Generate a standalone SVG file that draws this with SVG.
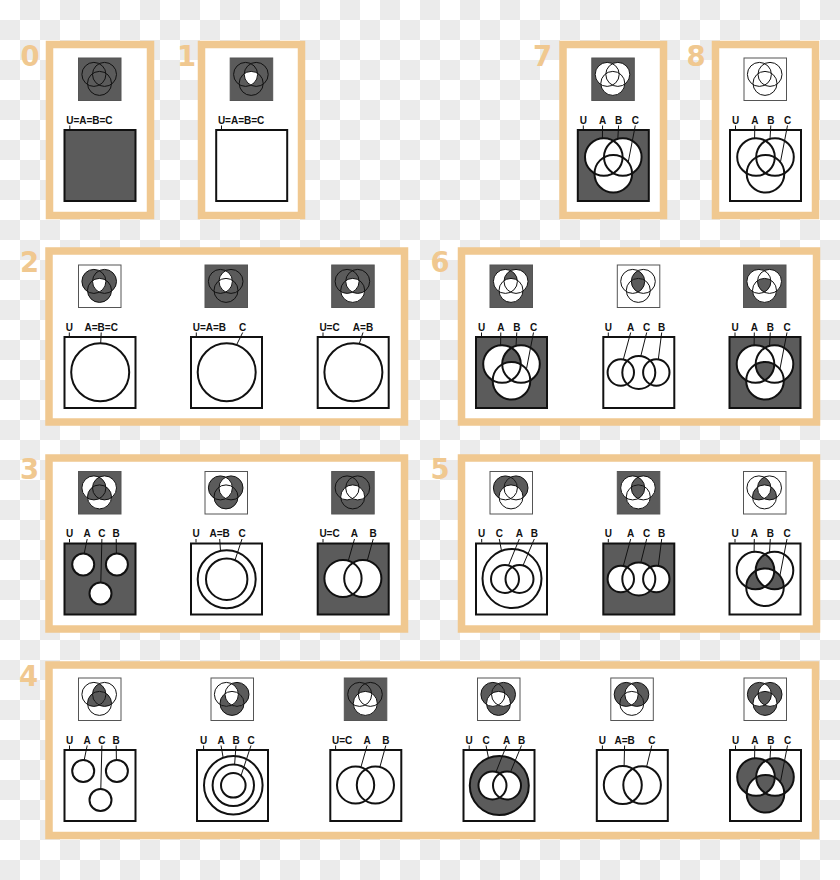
<svg xmlns="http://www.w3.org/2000/svg" xmlns:xlink="http://www.w3.org/1999/xlink" width="840" height="880" viewBox="0 0 840 880">
<style>
.fr{fill:#fff;stroke:#f0c890;stroke-width:7.5}
.num{font-family:"DejaVu Sans",sans-serif;font-weight:bold;font-size:27.5px;fill:#f0c890}
.isq{stroke:#555;stroke-width:1}
.bsq{stroke:#111;stroke-width:2}
.dk{fill:#5b5b5b}
.wh{fill:#fff}
.nf{fill:none}
.bc{stroke:#111;stroke-width:2}
.lb{font-family:"Liberation Sans",Arial,sans-serif;font-weight:bold;font-size:10px;fill:#111;text-anchor:middle}
.ls{font-family:"Liberation Sans",Arial,sans-serif;font-weight:bold;font-size:10px;fill:#111;text-anchor:start}
.ld{fill:none;stroke:#111;stroke-width:1}
</style>
<defs>
<pattern id="chk" width="40" height="40" patternUnits="userSpaceOnUse"><rect width="40" height="40" fill="#fff"/><rect x="20" width="20" height="20" fill="#ebebeb"/><rect y="20" width="20" height="20" fill="#ebebeb"/></pattern>
<clipPath id="ciA"><circle cx="15.9" cy="16.9" r="12"/></clipPath>
<clipPath id="ciB"><circle cx="26.5" cy="16.9" r="12"/></clipPath>
<clipPath id="ciC"><circle cx="21.5" cy="25.9" r="12"/></clipPath>
<clipPath id="niA"><path clip-rule="evenodd" d="M-2 -2H46V46H-2Z M3.9 16.9a12 12 0 1 0 24 0a12 12 0 1 0 -24 0Z"/></clipPath>
<clipPath id="niB"><path clip-rule="evenodd" d="M-2 -2H46V46H-2Z M14.5 16.9a12 12 0 1 0 24 0a12 12 0 1 0 -24 0Z"/></clipPath>
<clipPath id="niC"><path clip-rule="evenodd" d="M-2 -2H46V46H-2Z M9.5 25.9a12 12 0 1 0 24 0a12 12 0 1 0 -24 0Z"/></clipPath>
<clipPath id="cbA"><circle cx="27" cy="28" r="18.8"/></clipPath>
<clipPath id="cbB"><circle cx="46" cy="28" r="18.8"/></clipPath>
<clipPath id="cbC"><circle cx="36.5" cy="44.7" r="18.8"/></clipPath>
<clipPath id="nbA"><path clip-rule="evenodd" d="M-2 -2H75V75H-2Z M8.2 28a18.8 18.8 0 1 0 37.6 0a18.8 18.8 0 1 0 -37.6 0Z"/></clipPath>
<clipPath id="nbB"><path clip-rule="evenodd" d="M-2 -2H75V75H-2Z M27.2 28a18.8 18.8 0 1 0 37.6 0a18.8 18.8 0 1 0 -37.6 0Z"/></clipPath>
<clipPath id="nbC"><path clip-rule="evenodd" d="M-2 -2H75V75H-2Z M17.7 44.7a18.8 18.8 0 1 0 37.6 0a18.8 18.8 0 1 0 -37.6 0Z"/></clipPath>
<!-- icon pieces -->
<g id="iU"><circle id="iCa" cx="15.9" cy="16.9" r="12"/><circle id="iCb" cx="26.5" cy="16.9" r="12"/><circle id="iCc" cx="21.5" cy="25.9" r="12"/></g>
<g id="iO" fill="none" stroke="#111" stroke-width="1"><circle cx="15.9" cy="16.9" r="12"/><circle cx="26.5" cy="16.9" r="12"/><circle cx="21.5" cy="25.9" r="12"/></g>
<g id="i100" clip-path="url(#ciA)"><g clip-path="url(#niB)"><rect clip-path="url(#niC)" width="44" height="44"/></g></g>
<g id="i010" clip-path="url(#niA)"><g clip-path="url(#ciB)"><rect clip-path="url(#niC)" width="44" height="44"/></g></g>
<g id="i001" clip-path="url(#niA)"><g clip-path="url(#niB)"><rect clip-path="url(#ciC)" width="44" height="44"/></g></g>
<g id="i110" clip-path="url(#ciA)"><g clip-path="url(#ciB)"><rect clip-path="url(#niC)" width="44" height="44"/></g></g>
<g id="i101" clip-path="url(#ciA)"><g clip-path="url(#niB)"><rect clip-path="url(#ciC)" width="44" height="44"/></g></g>
<g id="i011" clip-path="url(#niA)"><g clip-path="url(#ciB)"><rect clip-path="url(#ciC)" width="44" height="44"/></g></g>
<g id="i111" clip-path="url(#ciA)"><g clip-path="url(#ciB)"><rect clip-path="url(#ciC)" width="44" height="44"/></g></g>
<!-- big venn pieces -->
<g id="bU"><circle cx="27" cy="28" r="18.8"/><circle cx="46" cy="28" r="18.8"/><circle cx="36.5" cy="44.7" r="18.8"/></g>
<g id="bO" fill="none" stroke="#111" stroke-width="2"><circle cx="27" cy="28" r="18.8"/><circle cx="46" cy="28" r="18.8"/><circle cx="36.5" cy="44.7" r="18.8"/></g>
<g id="b100" clip-path="url(#cbA)"><g clip-path="url(#nbB)"><rect clip-path="url(#nbC)" width="73" height="73"/></g></g>
<g id="b010" clip-path="url(#nbA)"><g clip-path="url(#cbB)"><rect clip-path="url(#nbC)" width="73" height="73"/></g></g>
<g id="b001" clip-path="url(#nbA)"><g clip-path="url(#nbB)"><rect clip-path="url(#cbC)" width="73" height="73"/></g></g>
<g id="b110" clip-path="url(#cbA)"><g clip-path="url(#cbB)"><rect clip-path="url(#nbC)" width="73" height="73"/></g></g>
<g id="b101" clip-path="url(#cbA)"><g clip-path="url(#nbB)"><rect clip-path="url(#cbC)" width="73" height="73"/></g></g>
<g id="b011" clip-path="url(#nbA)"><g clip-path="url(#cbB)"><rect clip-path="url(#cbC)" width="73" height="73"/></g></g>
<g id="b111" clip-path="url(#cbA)"><g clip-path="url(#cbB)"><rect clip-path="url(#cbC)" width="73" height="73"/></g></g>
</defs>

<rect width="840" height="880" fill="url(#chk)"/>

<g id="frames">
<rect class="fr" x="49.5" y="44.5" width="101" height="171"/>
<rect class="fr" x="201.5" y="44.5" width="100" height="171"/>
<rect class="fr" x="563" y="44.5" width="100.5" height="171"/>
<rect class="fr" x="715.5" y="44.5" width="100" height="171"/>
<rect class="fr" x="49" y="251" width="355.5" height="171"/>
<rect class="fr" x="461.5" y="251" width="355" height="171"/>
<rect class="fr" x="49" y="458" width="355.5" height="171"/>
<rect class="fr" x="461.5" y="458" width="355" height="171"/>
<rect class="fr" x="49" y="665" width="766.5" height="170.5"/>
<text class="num" x="20.5" y="65.5">0</text>
<text class="num" x="177" y="65.5">1</text>
<text class="num" x="533" y="65.5">7</text>
<text class="num" x="686.5" y="65.5">8</text>
<text class="num" x="20" y="272">2</text>
<text class="num" x="430.5" y="272">6</text>
<text class="num" x="20" y="478.5">3</text>
<text class="num" x="430.5" y="478.5">5</text>
<text class="num" x="19" y="686">4</text>
</g>

<!-- group 0 -->
<g id="c0" transform="translate(63.5,129)">
<g transform="translate(14.5,-71.5)"><rect class="isq dk" x="0.5" y="0.5" width="42.5" height="42.5"/><use href="#iO"/></g>
<rect class="bsq dk" x="1" y="1" width="71" height="71"/>
<text class="ls" x="2.7" y="-5.5">U=A=B=C</text>
</g>
<!-- group 1 -->
<g id="c1" transform="translate(215.2,129)">
<g transform="translate(14.5,-71.5)"><rect class="isq dk" x="0.5" y="0.5" width="42.5" height="42.5"/><use href="#i111" class="wh"/><use href="#iO"/></g>
<rect class="bsq wh" x="1" y="1" width="71" height="71"/>
<text class="ls" x="2.7" y="-5.5">U=A=B=C</text>
</g>
<!-- group 7 -->
<g id="c7" transform="translate(576.8,129)">
<g transform="translate(14.5,-71.5)"><rect class="isq dk" x="0.5" y="0.5" width="42.5" height="42.5"/><use href="#iU" class="wh"/><use href="#iO"/></g>
<rect class="bsq dk" x="1" y="1" width="71" height="71"/>
<use href="#bU" class="wh"/><use href="#bO"/>
<text class="lb" x="6.5" y="-5.5">U</text><text class="lb" x="25.8" y="-5.5">A</text><text class="lb" x="41.8" y="-5.5">B</text><text class="lb" x="58.5" y="-5.5">C</text>
</g>
<!-- group 8 -->
<g id="c8" transform="translate(729,129)">
<g transform="translate(14.5,-71.5)"><rect class="isq wh" x="0.5" y="0.5" width="42.5" height="42.5"/><use href="#iO"/></g>
<rect class="bsq wh" x="1" y="1" width="71" height="71"/>
<use href="#bO"/>
<text class="lb" x="6.5" y="-5.5">U</text><text class="lb" x="25.8" y="-5.5">A</text><text class="lb" x="41.8" y="-5.5">B</text><text class="lb" x="58.5" y="-5.5">C</text>
</g>

<!-- group 2 -->
<g id="c2a" transform="translate(63.5,336)">
<g transform="translate(14.5,-71.5)"><rect class="isq wh" x="0.5" y="0.5" width="42.5" height="42.5"/><use href="#iU" class="dk"/><use href="#i111" class="wh"/><use href="#iO"/></g>
<rect class="bsq wh" x="1" y="1" width="71" height="71"/>
<circle class="bc wh" cx="36.7" cy="36.3" r="29"/>
<text class="lb" x="5.8" y="-5.5">U</text><text class="lb" x="37.7" y="-5.5">A=B=C</text>
</g>
<g id="c2b" transform="translate(190,336)">
<g transform="translate(14.5,-71.5)"><rect class="isq dk" x="0.5" y="0.5" width="42.5" height="42.5"/><use href="#i110" class="wh"/><use href="#i111" class="wh"/><use href="#iO"/></g>
<rect class="bsq wh" x="1" y="1" width="71" height="71"/>
<circle class="bc wh" cx="36.7" cy="36.3" r="29"/>
<text class="ls" x="2.7" y="-5.5">U=A=B</text><text class="lb" x="52.7" y="-5.5">C</text>
</g>
<g id="c2c" transform="translate(316.7,336)">
<g transform="translate(14.5,-71.5)"><rect class="isq dk" x="0.5" y="0.5" width="42.5" height="42.5"/><use href="#i001" class="wh"/><use href="#i111" class="wh"/><use href="#iO"/></g>
<rect class="bsq wh" x="1" y="1" width="71" height="71"/>
<circle class="bc wh" cx="36.7" cy="36.3" r="29"/>
<text class="ls" x="2.7" y="-5.5">U=C</text><text class="lb" x="46.3" y="-5.5">A=B</text>
</g>

<!-- group 6 -->
<g id="c6a" transform="translate(475,336)">
<g transform="translate(14.5,-71.5)"><rect class="isq dk" x="0.5" y="0.5" width="42.5" height="42.5"/><use href="#iU" class="wh"/><use href="#i110" class="dk"/><use href="#iO"/></g>
<rect class="bsq dk" x="1" y="1" width="71" height="71"/>
<use href="#bU" class="wh"/><use href="#b110" class="dk"/><use href="#bO"/>
<text class="lb" x="6.5" y="-5.5">U</text><text class="lb" x="25.8" y="-5.5">A</text><text class="lb" x="41.8" y="-5.5">B</text><text class="lb" x="58.5" y="-5.5">C</text>
</g>
<g id="c6b" transform="translate(602.3,336)">
<g transform="translate(14.5,-71.5)"><rect class="isq wh" x="0.5" y="0.5" width="42.5" height="42.5"/><use href="#i110" class="dk"/><use href="#i111" class="dk"/><use href="#iO"/></g>
<rect class="bsq wh" x="1" y="1" width="71" height="71"/>
<circle class="bc nf" cx="18.5" cy="36.5" r="13.2"/><circle class="bc nf" cx="36.5" cy="36.5" r="16.5"/><circle class="bc nf" cx="54" cy="36.5" r="13.2"/>
<text class="lb" x="6" y="-5.5">U</text><text class="lb" x="28.4" y="-5.5">A</text><text class="lb" x="44.4" y="-5.5">C</text><text class="lb" x="59.4" y="-5.5">B</text>
</g>
<g id="c6c" transform="translate(728.5,336)">
<g transform="translate(14.5,-71.5)"><rect class="isq dk" x="0.5" y="0.5" width="42.5" height="42.5"/><use href="#iU" class="wh"/><use href="#i111" class="dk"/><use href="#iO"/></g>
<rect class="bsq dk" x="1" y="1" width="71" height="71"/>
<use href="#bU" class="wh"/><use href="#b111" class="dk"/><use href="#bO"/>
<text class="lb" x="6.5" y="-5.5">U</text><text class="lb" x="25.8" y="-5.5">A</text><text class="lb" x="41.8" y="-5.5">B</text><text class="lb" x="58.5" y="-5.5">C</text>
</g>

<!-- group 3 -->
<g id="c3a" transform="translate(63.5,542.5)">
<g transform="translate(14.5,-71.5)"><rect class="isq dk" x="0.5" y="0.5" width="42.5" height="42.5"/><use href="#i100" class="wh"/><use href="#i010" class="wh"/><use href="#i001" class="wh"/><use href="#iO"/></g>
<rect class="bsq dk" x="1" y="1" width="71" height="71"/>
<circle class="bc wh" cx="19.7" cy="22" r="11"/><circle class="bc wh" cx="53.4" cy="22" r="11"/><circle class="bc wh" cx="37" cy="51" r="11"/>
<text class="lb" x="6" y="-5.5">U</text><text class="lb" x="23.7" y="-5.5">A</text><text class="lb" x="38.4" y="-5.5">C</text><text class="lb" x="52.7" y="-5.5">B</text>
</g>
<g id="c3b" transform="translate(190,542.5)">
<g transform="translate(14.5,-71.5)"><rect class="isq wh" x="0.5" y="0.5" width="42.5" height="42.5"/><use href="#iU" class="dk"/><use href="#i110" class="wh"/><use href="#i111" class="wh"/><use href="#iO"/></g>
<rect class="bsq wh" x="1" y="1" width="71" height="71"/>
<circle class="bc nf" cx="36.7" cy="36.7" r="29"/><circle class="bc nf" cx="36.7" cy="36.7" r="20.7"/>
<text class="lb" x="6" y="-5.5">U</text><text class="lb" x="29.7" y="-5.5">A=B</text><text class="lb" x="52" y="-5.5">C</text>
</g>
<g id="c3c" transform="translate(316.7,542.5)">
<g transform="translate(14.5,-71.5)"><rect class="isq dk" x="0.5" y="0.5" width="42.5" height="42.5"/><use href="#i101" class="wh"/><use href="#i011" class="wh"/><use href="#i111" class="wh"/><use href="#iO"/></g>
<rect class="bsq dk" x="1" y="1" width="71" height="71"/>
<circle class="wh" cx="26.3" cy="36" r="18.6"/><circle class="wh" cx="46.1" cy="36" r="18.6"/>
<circle class="bc nf" cx="26.3" cy="36" r="18.6"/><circle class="bc nf" cx="46.1" cy="36" r="18.6"/>
<text class="ls" x="2.7" y="-5.5">U=C</text><text class="lb" x="37.8" y="-5.5">A</text><text class="lb" x="56.5" y="-5.5">B</text>
</g>

<!-- group 5 -->
<g id="c5a" transform="translate(475,542.5)">
<g transform="translate(14.5,-71.5)"><rect class="isq wh" x="0.5" y="0.5" width="42.5" height="42.5"/><use href="#i100" class="dk"/><use href="#i010" class="dk"/><use href="#i110" class="dk"/><use href="#iO"/></g>
<rect class="bsq wh" x="1" y="1" width="71" height="71"/>
<circle class="bc nf" cx="37" cy="36" r="29.5"/><circle class="bc nf" cx="30" cy="36.5" r="14"/><circle class="bc nf" cx="44.5" cy="36.5" r="14"/>
<text class="lb" x="6.7" y="-5.5">U</text><text class="lb" x="24.3" y="-5.5">C</text><text class="lb" x="44.3" y="-5.5">A</text><text class="lb" x="59.3" y="-5.5">B</text>
</g>
<g id="c5b" transform="translate(602.3,542.5)">
<g transform="translate(14.5,-71.5)"><rect class="isq dk" x="0.5" y="0.5" width="42.5" height="42.5"/><use href="#iU" class="wh"/><use href="#i110" class="dk"/><use href="#i111" class="dk"/><use href="#iO"/></g>
<rect class="bsq dk" x="1" y="1" width="71" height="71"/>
<circle class="wh" cx="18.5" cy="36.5" r="13.2"/><circle class="wh" cx="36.5" cy="36.5" r="16.5"/><circle class="wh" cx="54" cy="36.5" r="13.2"/>
<circle class="bc nf" cx="18.5" cy="36.5" r="13.2"/><circle class="bc nf" cx="36.5" cy="36.5" r="16.5"/><circle class="bc nf" cx="54" cy="36.5" r="13.2"/>
<text class="lb" x="6" y="-5.5">U</text><text class="lb" x="28.4" y="-5.5">A</text><text class="lb" x="44.4" y="-5.5">C</text><text class="lb" x="59.4" y="-5.5">B</text>
</g>
<g id="c5c" transform="translate(728.5,542.5)">
<g transform="translate(14.5,-71.5)"><rect class="isq wh" x="0.5" y="0.5" width="42.5" height="42.5"/><use href="#i110" class="dk"/><use href="#i101" class="dk"/><use href="#i011" class="dk"/><use href="#iO"/></g>
<rect class="bsq wh" x="1" y="1" width="71" height="71"/>
<use href="#b110" class="dk"/><use href="#b101" class="dk"/><use href="#b011" class="dk"/><use href="#bO"/>
<text class="lb" x="6.5" y="-5.5">U</text><text class="lb" x="25.8" y="-5.5">A</text><text class="lb" x="41.8" y="-5.5">B</text><text class="lb" x="58.5" y="-5.5">C</text>
</g>

<!-- group 4 -->
<g id="c4a" transform="translate(63.5,749)">
<g transform="translate(14.5,-71.5)"><rect class="isq wh" x="0.5" y="0.5" width="42.5" height="42.5"/><use href="#i110" class="dk"/><use href="#i101" class="dk"/><use href="#i011" class="dk"/><use href="#i111" class="dk"/><use href="#iO"/></g>
<rect class="bsq wh" x="1" y="1" width="71" height="71"/>
<circle class="bc nf" cx="19.7" cy="22" r="11"/><circle class="bc nf" cx="53.4" cy="22" r="11"/><circle class="bc nf" cx="37" cy="51" r="11"/>
<text class="lb" x="6" y="-5.5">U</text><text class="lb" x="23.7" y="-5.5">A</text><text class="lb" x="38.4" y="-5.5">C</text><text class="lb" x="52.7" y="-5.5">B</text>
</g>
<g id="c4b" transform="translate(196,749)">
<g transform="translate(14.5,-71.5)"><rect class="isq wh" x="0.5" y="0.5" width="42.5" height="42.5"/><use href="#i010" class="dk"/><use href="#i001" class="dk"/><use href="#i101" class="dk"/><use href="#i011" class="dk"/><use href="#iO"/></g>
<rect class="bsq wh" x="1" y="1" width="71" height="71"/>
<circle class="bc nf" cx="37.3" cy="36.3" r="29.3"/><circle class="bc nf" cx="37.3" cy="36.3" r="20.7"/><circle class="bc nf" cx="37.3" cy="36.3" r="12.3"/>
<text class="lb" x="7.6" y="-5.5">U</text><text class="lb" x="25" y="-5.5">A</text><text class="lb" x="40" y="-5.5">B</text><text class="lb" x="55" y="-5.5">C</text>
</g>
<g id="c4c" transform="translate(329.3,749)">
<g transform="translate(14.5,-71.5)"><rect class="isq dk" x="0.5" y="0.5" width="42.5" height="42.5"/><use href="#iCc" class="wh"/><use href="#iO"/></g>
<rect class="bsq wh" x="1" y="1" width="71" height="71"/>
<circle class="bc nf" cx="26.3" cy="36" r="18.6"/><circle class="bc nf" cx="46.1" cy="36" r="18.6"/>
<text class="ls" x="2.7" y="-5.5">U=C</text><text class="lb" x="37.8" y="-5.5">A</text><text class="lb" x="56.5" y="-5.5">B</text>
</g>
<g id="c4d" transform="translate(462.5,749)">
<g transform="translate(14.5,-71.5)"><rect class="isq wh" x="0.5" y="0.5" width="42.5" height="42.5"/><use href="#i100" class="dk"/><use href="#i010" class="dk"/><use href="#i110" class="dk"/><use href="#i001" class="dk"/><use href="#iO"/></g>
<rect class="bsq wh" x="1" y="1" width="71" height="71"/>
<circle class="bc dk" cx="36.8" cy="36.5" r="29.5"/>
<circle class="wh" cx="30" cy="36.5" r="14"/><circle class="wh" cx="44.5" cy="36.5" r="14"/>
<circle class="bc nf" cx="30" cy="36.5" r="14"/><circle class="bc nf" cx="44.5" cy="36.5" r="14"/>
<text class="lb" x="6.7" y="-5.5">U</text><text class="lb" x="23.5" y="-5.5">C</text><text class="lb" x="44" y="-5.5">A</text><text class="lb" x="59" y="-5.5">B</text>
</g>
<g id="c4e" transform="translate(595.8,749)">
<g transform="translate(14.5,-71.5)"><rect class="isq wh" x="0.5" y="0.5" width="42.5" height="42.5"/><use href="#i100" class="dk"/><use href="#i010" class="dk"/><use href="#i101" class="dk"/><use href="#i011" class="dk"/><use href="#iO"/></g>
<rect class="bsq wh" x="1" y="1" width="71" height="71"/>
<circle class="bc nf" cx="27" cy="36" r="19"/><circle class="bc nf" cx="46.3" cy="36" r="18.8"/>
<text class="lb" x="6.6" y="-5.5">U</text><text class="lb" x="28.8" y="-5.5">A=B</text><text class="lb" x="56" y="-5.5">C</text>
</g>
<g id="c4f" transform="translate(729,749)">
<g transform="translate(14.5,-71.5)"><rect class="isq wh" x="0.5" y="0.5" width="42.5" height="42.5"/><use href="#i100" class="dk"/><use href="#i010" class="dk"/><use href="#i001" class="dk"/><use href="#i111" class="dk"/><use href="#iO"/></g>
<rect class="bsq wh" x="1" y="1" width="71" height="71"/>
<use href="#b100" class="dk"/><use href="#b010" class="dk"/><use href="#b001" class="dk"/><use href="#b111" class="dk"/><use href="#bO"/>
<text class="lb" x="6.5" y="-5.5">U</text><text class="lb" x="25.8" y="-5.5">A</text><text class="lb" x="41.8" y="-5.5">B</text><text class="lb" x="58.5" y="-5.5">C</text>
</g>

<g id="connectors">
<path class="ld" transform="translate(63.5,129)" d="M6.3 -3.5V0"/>
<path class="ld" transform="translate(215.2,129)" d="M6.3 -3.5V0"/>
<path class="ld" transform="translate(576.8,129)" d="M6.5 -3.5V0M25.8 -3.5L25.6 9.2M41.8 -3.5L41 9.9M58.5 -3.5L51.4 33.3"/>
<path class="ld" transform="translate(729,129)" d="M6.5 -3.5V0M25.8 -3.5L25.6 9.2M41.8 -3.5L41 9.9M58.5 -3.5L51.4 33.3"/>
<path class="ld" transform="translate(63.5,336)" d="M5.8 -3.5V0M37.7 -3.5L37.2 7.3"/>
<path class="ld" transform="translate(190,336)" d="M6.3 -3.5V0M52.7 -3.5L46.5 9"/>
<path class="ld" transform="translate(316.7,336)" d="M6.3 -3.5V0M46.3 -3.5L42.5 7.9"/>
<path class="ld" transform="translate(475,336)" d="M6.5 -3.5V0M25.8 -3.5L25.6 9.2M41.8 -3.5L41 9.9M58.5 -3.5L51.4 33.3"/>
<path class="ld" transform="translate(602.3,336)" d="M6 -3.5V0M28.4 -3.5L21 23.5M44.4 -3.5L38.5 20.1M59.4 -3.5L56 23.5"/>
<path class="ld" transform="translate(728.5,336)" d="M6.5 -3.5V0M25.8 -3.5L25.6 9.2M41.8 -3.5L41 9.9M58.5 -3.5L51.4 33.3"/>
<path class="ld" transform="translate(63.5,542.5)" d="M6 -3.5V0M23.7 -3.5L20.7 11M38.4 -3.5L37.3 40M52.7 -3.5L52.9 11"/>
<path class="ld" transform="translate(190,542.5)" d="M6 -3.5V0M29.7 -3.5L30.5 8.4M52 -3.5L45 17.7"/>
<path class="ld" transform="translate(316.7,542.5)" d="M6.3 -3.5V0M37.8 -3.5L31.6 18.2M56.5 -3.5L50.6 18"/>
<path class="ld" transform="translate(475,542.5)" d="M6.7 -3.5V0M24.3 -3.5L26.5 8.4M44.3 -3.5L33.5 23M59.3 -3.5L48 23"/>
<path class="ld" transform="translate(602.3,542.5)" d="M6 -3.5V0M28.4 -3.5L21 23.5M44.4 -3.5L38.5 20.1M59.4 -3.5L56 23.5"/>
<path class="ld" transform="translate(728.5,542.5)" d="M6.5 -3.5V0M25.8 -3.5L25.6 9.2M41.8 -3.5L41 9.9M58.5 -3.5L51.4 33.3"/>
<path class="ld" transform="translate(63.5,749)" d="M6 -3.5V0M23.7 -3.5L20.7 11M38.4 -3.5L37.3 40M52.7 -3.5L52.9 11"/>
<path class="ld" transform="translate(196,749)" d="M7.6 -3.5V0M25 -3.5L27.2 8.8M40 -3.5L38.6 15.6M55 -3.5L45 26.7"/>
<path class="ld" transform="translate(329.3,749)" d="M6.3 -3.5V0M37.8 -3.5L31.6 18.2M56.5 -3.5L50.6 18"/>
<path class="ld" transform="translate(462.5,749)" d="M6.7 -3.5V0M23.5 -3.5L26 9M44 -3.5L33.5 23M59 -3.5L48 23"/>
<path class="ld" transform="translate(595.8,749)" d="M6.6 -3.5V0M28.8 -3.5L28.3 17M56 -3.5L50.8 17.8"/>
<path class="ld" transform="translate(729,749)" d="M6.5 -3.5V0M25.8 -3.5L25.6 9.2M41.8 -3.5L41 9.9M58.5 -3.5L51.4 33.3"/>
</g>
</svg>
